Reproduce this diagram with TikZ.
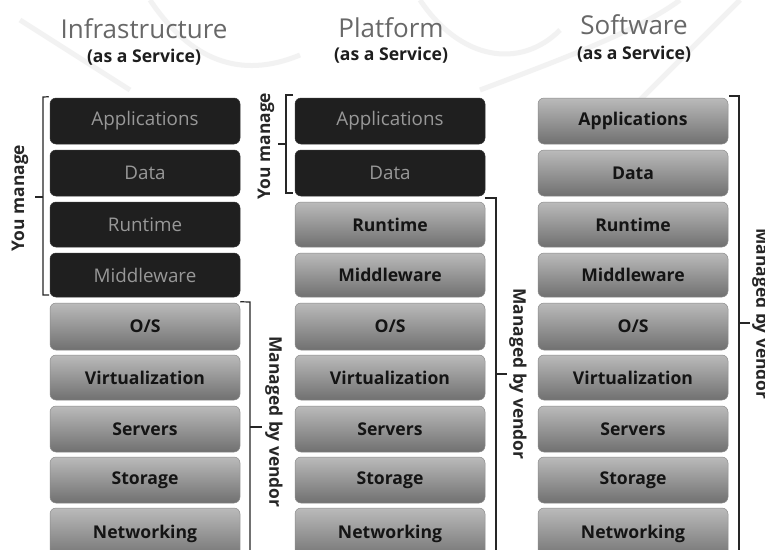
\documentclass[tikz,border=0pt]{standalone}
\usepackage{fontspec}
\setmainfont{Open Sans}
\definecolor{titlegray}{HTML}{686868}
\definecolor{subdark}{HTML}{1E1E1E}
\definecolor{lightdark}{HTML}{989898}
\tikzset{
  layerbox/.style={rounded corners=6pt,minimum width=190pt,inner sep=0pt,anchor=center},
  vendorbox/.style={layerbox,top color=black!27,bottom color=black!56,draw=black!45,line width=.5pt,text=black!92,font=\fontsize{17.6}{20}\selectfont\bfseries},
  userbox/.style={layerbox,fill=black!88,draw=black!80,line width=.5pt,text=lightdark,font=\fontsize{18.8}{21}\selectfont},
  titletext/.style={font=\fontsize{26}{30}\selectfont,text=titlegray,inner sep=0pt},
  subtext/.style={font=\fontsize{17.6}{20}\selectfont\bfseries,text=subdark,inner sep=0pt},
  sidetext/.style={font=\fontsize{17.4}{20}\selectfont\bfseries,text=black!85,inner sep=0pt},
  brace/.style={draw=black!85,line width=1.2pt},
  seal/.style={draw=black!5,line width=5pt}
}
\begin{document}
\begin{tikzpicture}[x=1pt,y=-1pt]
\useasboundingbox (0,0) rectangle (765,549);
\clip (0,0) rectangle (765,549);
\fill[white] (0,0) rectangle (765,549);
% faint watermark
\draw[seal] (150,0) .. controls (190,60) and (240,80) .. (300,55);
\draw[seal] (20,20) -- (130,90);
\draw[seal] (420,0) .. controls (460,60) and (520,70) .. (560,30);
\draw[seal] (480,90) .. controls (560,60) and (640,30) .. (680,0);
\draw[seal] (740,0) -- (640,100);
% titles
\node[titletext] (t1) at (144,29) {Infrastructure};
\node[subtext]   (s1) at (144,57) {(as a Service)};
\node[titletext] (t2) at (391,28) {Platform};
\node[subtext]   (s2) at (391,55) {(as a Service)};
\node[titletext] (t3) at (634,25) {Software};
\node[subtext]   (s3) at (634,54) {(as a Service)};
% column 1
\node[userbox,minimum height=46pt] (a1) at (145,121) {Applications};
\node[userbox,minimum height=46pt] (a2) at (145,173) {Data};
\node[userbox,minimum height=45pt] (a3) at (145,224.5) {Runtime};
\node[userbox,minimum height=44pt] (a4) at (145,275) {Middleware};
\node[vendorbox,minimum height=47pt] (a5) at (145,326.5) {O/S};
\node[vendorbox,minimum height=45pt] (a6) at (145,377.5) {Virtualization};
\node[vendorbox,minimum height=46pt] (a7) at (145,429) {Servers};
\node[vendorbox,minimum height=46pt] (a8) at (145,480) {Storage};
\node[vendorbox,minimum height=52pt] (a9) at (145,534) {Networking};
% column 2
\node[userbox,minimum height=46pt] (b1) at (390,121) {Applications};
\node[userbox,minimum height=46pt] (b2) at (390,173) {Data};
\node[vendorbox,minimum height=45pt] (b3) at (390,224.5) {Runtime};
\node[vendorbox,minimum height=44pt] (b4) at (390,275) {Middleware};
\node[vendorbox,minimum height=47pt] (b5) at (390,326.5) {O/S};
\node[vendorbox,minimum height=45pt] (b6) at (390,377.5) {Virtualization};
\node[vendorbox,minimum height=46pt] (b7) at (390,429) {Servers};
\node[vendorbox,minimum height=46pt] (b8) at (390,480) {Storage};
\node[vendorbox,minimum height=52pt] (b9) at (390,534) {Networking};
% column 3
\node[vendorbox,minimum height=46pt] (c1) at (633,121) {Applications};
\node[vendorbox,minimum height=46pt] (c2) at (633,173) {Data};
\node[vendorbox,minimum height=45pt] (c3) at (633,224.5) {Runtime};
\node[vendorbox,minimum height=44pt] (c4) at (633,275) {Middleware};
\node[vendorbox,minimum height=47pt] (c5) at (633,326.5) {O/S};
\node[vendorbox,minimum height=45pt] (c6) at (633,377.5) {Virtualization};
\node[vendorbox,minimum height=46pt] (c7) at (633,429) {Servers};
\node[vendorbox,minimum height=46pt] (c8) at (633,480) {Storage};
\node[vendorbox,minimum height=52pt] (c9) at (633,534) {Networking};
% side labels
\node[sidetext,rotate=90]  (y1) at (20,198) {You manage};
\node[sidetext,rotate=90]  (y2) at (266,146) {You manage};
\node[sidetext,rotate=-90] (m1) at (274,422) {Managed by vendor};
\node[sidetext,rotate=-90] (m2) at (518,374) {Managed by vendor};
\node[sidetext,rotate=-90] (m3) at (761,314) {Managed by vendor};
% brackets
\draw[brace] (a1.north west) ++(-1,-1) -- (43,97) -- (43,295) -- (49,295);
\draw[brace] (43,197) -- (35,197);
\draw[brace] (293,95) -- (286,95) -- (286,193) -- (293,193);
\draw[brace] (286,144) -- (278,144);
\draw[brace] (a5.north east) ++(0,-1) -- (250,302) -- (250,560);
\draw[brace] (250,427) -- (262,427);
\draw[brace] (485,198) -- (496,198) -- (496,560);
\draw[brace] (496,374) -- (507,374);
\draw[brace] (729,96) -- (739,96) -- (739,560);
\draw[brace] (739,323) -- (750,323);
\end{tikzpicture}
\end{document}
